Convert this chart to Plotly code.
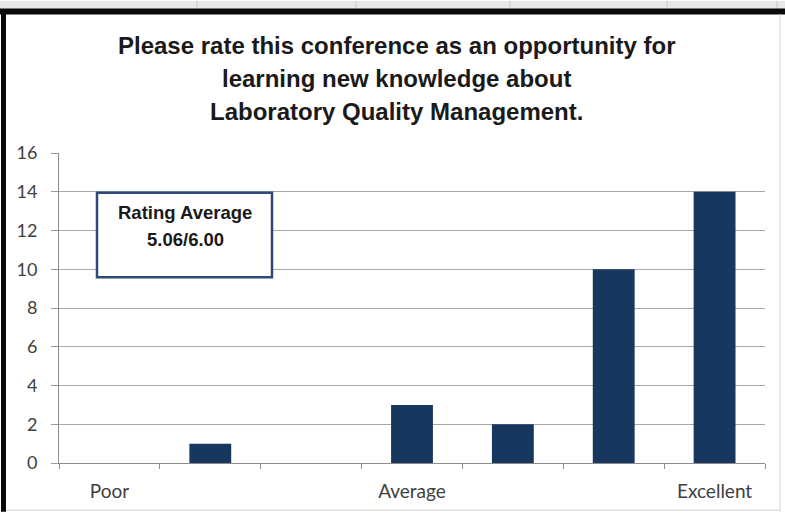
import plotly.graph_objects as go

categories = ["Poor", " ", "  ", "Average", "   ", "    ", "Excellent"]
counts = [0, 1, 0, 3, 2, 10, 14]
y_ticks = [0, 2, 4, 6, 8, 10, 12, 14, 16]
title_lines = [
    "Please rate this conference as an opportunity for",
    "learning new knowledge about",
    "Laboratory Quality Management.",
]
box_lines = ["Rating Average", "5.06/6.00"]

W, H = 785, 514
L, R, T, B = 59, 20, 153, 49
PW, PH = W - L - R, H - T - B


def px(x):
    return (x - L) / PW


def py(y):
    return (H - B - y) / PH


fig = go.Figure(
    go.Bar(
        x=categories,
        y=counts,
        marker=dict(color="#17375e", line=dict(width=0)),
    )
)

shapes = []
# spreadsheet strip above chart frame
shapes.append(dict(type="rect", xref="paper", yref="paper", x0=px(0), x1=px(W), y0=py(8), y1=py(0),
                   fillcolor="#e8e8e8", line=dict(width=0), layer="above"))
for gx in [197, 356, 510, 667, 777]:
    shapes.append(dict(type="line", xref="paper", yref="paper", x0=px(gx), x1=px(gx), y0=py(8), y1=py(0),
                       line=dict(color="#c8c8c8", width=1), layer="above"))
# frame
shapes.append(dict(type="rect", xref="paper", yref="paper", x0=px(0), x1=px(W), y0=py(13.5), y1=py(7.5),
                   fillcolor="#0a0a0a", line=dict(width=0), layer="above"))
shapes.append(dict(type="rect", xref="paper", yref="paper", x0=px(1), x1=px(6), y0=py(H), y1=py(8),
                   fillcolor="#0a0a0a", line=dict(width=0), layer="above"))
shapes.append(dict(type="line", xref="paper", yref="paper", x0=px(780), x1=px(780), y0=py(H), y1=py(13),
                   line=dict(color="#d4d4d4", width=1), layer="above"))
shapes.append(dict(type="line", xref="paper", yref="paper", x0=px(6), x1=px(780), y0=py(512.5), y1=py(512.5),
                   line=dict(color="#d4d4d4", width=1), layer="above"))
# text box
shapes.append(dict(type="rect", xref="paper", yref="paper", x0=px(97), x1=px(272), y0=py(278), y1=py(193),
                   fillcolor="white", line=dict(color="#2e4a78", width=2.5), layer="above"))

annotations = []
for i, line in enumerate(title_lines):
    annotations.append(dict(
        text="<b>" + line + "</b>", xref="paper", yref="paper", x=px(396), y=py(45 + 33 * i),
        xanchor="center", yanchor="middle", showarrow=False,
        font=dict(family="Liberation Sans, Arial", size=24, color="#1a1a1a"),
    ))
for i, line in enumerate(box_lines):
    annotations.append(dict(
        text="<b>" + line + "</b>", xref="paper", yref="paper", x=px(185), y=py(213 + 27 * i),
        xanchor="center", yanchor="middle", showarrow=False,
        font=dict(family="Liberation Sans, Arial", size=18.5, color="#1a1a1a"),
    ))

fig.update_layout(
    width=W, height=H,
    margin=dict(l=L, r=R, t=T, b=B, pad=0),
    paper_bgcolor="white", plot_bgcolor="white",
    bargap=0.585,
    showlegend=False,
    shapes=shapes,
    annotations=annotations,
    font=dict(family="Lato, Open Sans", size=18, color="#404040"),
)
fig.update_xaxes(
    type="category", categoryorder="array", categoryarray=categories,
    tickson="boundaries", ticks="outside", ticklen=5, tickcolor="#8c8c8c",
    showline=True, linecolor="#8c8c8c", linewidth=1,
    showgrid=False, zeroline=False, ticklabelstandoff=11,
    tickfont=dict(family="Lato, Open Sans", size=19, color="#404040"),
)
fig.update_yaxes(
    range=[0, 16], tickvals=y_ticks, ticks="outside", ticklen=7, tickcolor="#9a9a9a",
    showline=True, linecolor="#8c8c8c", linewidth=1,
    showgrid=True, gridcolor="#a8a8a8", gridwidth=1, zeroline=False,
    ticklabelstandoff=10,
    tickfont=dict(family="Lato, Open Sans", size=18, color="#404040"),
)

fig.write_html(
    "out.html",
    config={"displayModeBar": False},
    post_script="document.body.style.margin='0';document.body.style.overflow='hidden';",
)
